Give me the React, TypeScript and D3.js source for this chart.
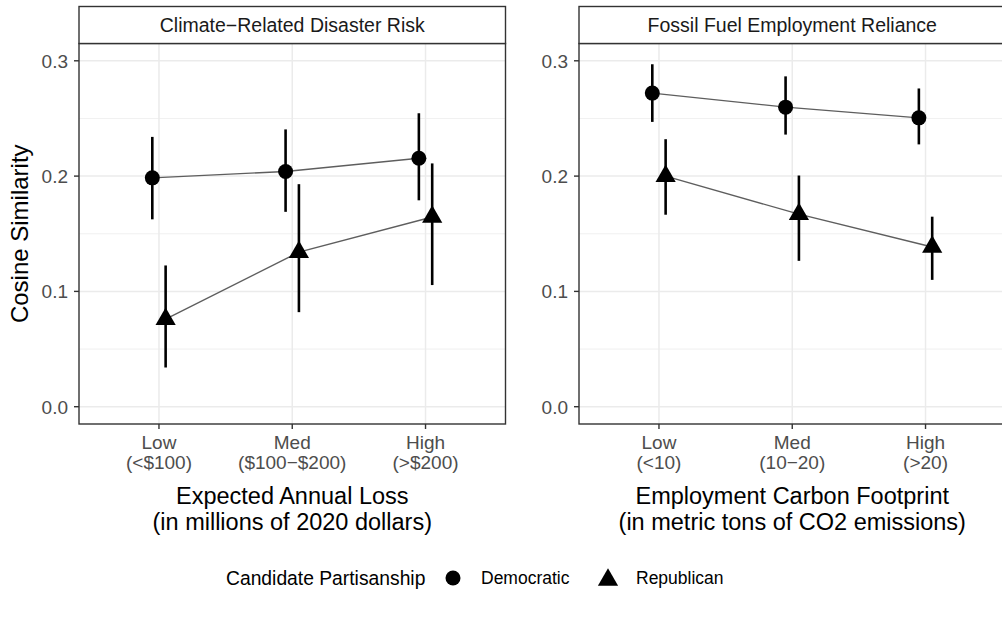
import React from "react";
import * as d3 from "d3";

// ---- data ----
const levels = ["Low", "Med", "High"];
const panelTitles = ["Climate−Related Disaster Risk", "Fossil Fuel Employment Reliance"];
const tickLabelsLeft = [["Low", "(<$100)"], ["Med", "($100−$200)"], ["High", "(>$200)"]];
const tickLabelsRight = [["Low", "(<10)"], ["Med", "(10−20)"], ["High", "(>20)"]];
const xTitlesLeft = ["Expected Annual Loss", "(in millions of 2020 dollars)"];
const xTitlesRight = ["Employment Carbon Footprint", "(in metric tons of CO2 emissions)"];
const yTicks = [0, 0.1, 0.2, 0.3];
const yMinor = [0.05, 0.15, 0.25];
const parties = ["Democratic", "Republican"];
const legendTitle = "Candidate Partisanship";

// Climate-related disaster risk
const demEstL = [0.1985, 0.204, 0.2155];
const demLoL = [0.1625, 0.169, 0.179];
const demHiL = [0.234, 0.2405, 0.2545];
const repEstL = [0.076, 0.134, 0.1645];
const repLoL = [0.034, 0.082, 0.1055];
const repHiL = [0.1225, 0.193, 0.211];
// Fossil fuel employment reliance
const demEstR = [0.272, 0.2598, 0.2505];
const demLoR = [0.247, 0.236, 0.2275];
const demHiR = [0.297, 0.2865, 0.276];
const repEstR = [0.2, 0.167, 0.1385];
const repLoR = [0.1665, 0.1265, 0.11];
const repHiR = [0.232, 0.2005, 0.1648];

const FONT = "'Liberation Sans', Arial, Helvetica, sans-serif";
const W = 1002;
const H = 623;
const panelTop = 43.5;
const panelBottom = 424;
const stripTop = 6.5;
const panelLefts = [79, 579];
const panelWidth = 426.5;

const y = d3.scaleLinear().domain([-0.015, 0.315]).range([panelBottom, panelTop]);

const CIRCLE_R = 7.5;
const TRI_R = CIRCLE_R * 1.555;

function trianglePath(cx: number, cy: number, r: number) {
  const xc = r * 0.866;
  const yc = r * 0.5;
  return `M${cx},${cy - r}L${cx + xc},${cy + yc}L${cx - xc},${cy + yc}Z`;
}

type Series = { est: number[]; lo: number[]; hi: number[] };

function Panel(props: {
  left: number;
  title: string;
  ticks: string[][];
  xTitle: string[];
  dem: Series;
  rep: Series;
}) {
  const { left, title, ticks, xTitle, dem, rep } = props;
  const x = d3.scaleLinear().domain([0.4, 3.6]).range([left, left + panelWidth]);
  const xi = (i: number) => x(i + 1);
  const dodge = 0.05;
  const demPts: [number, number][] = dem.est.map((v, i) => [x(i + 1 - dodge), y(v)]);
  const repPts: [number, number][] = rep.est.map((v, i) => [x(i + 1 + dodge), y(v)]);
  const lineGen = d3.line();
  const right = left + panelWidth;
  return (
    <g>
      <rect x={left} y={panelTop} width={panelWidth} height={panelBottom - panelTop} fill="#fff" />
      {yMinor.map((v) => (
        <line key={"mn" + v} x1={left} x2={right} y1={y(v)} y2={y(v)} stroke="#ebebeb" strokeWidth={0.75} />
      ))}
      {yTicks.map((v) => (
        <line key={"mj" + v} x1={left} x2={right} y1={y(v)} y2={y(v)} stroke="#ebebeb" strokeWidth={1.5} />
      ))}
      {levels.map((l, i) => (
        <line key={"vx" + l} x1={xi(i)} x2={xi(i)} y1={panelTop} y2={panelBottom} stroke="#ebebeb" strokeWidth={1.5} />
      ))}
      <path d={lineGen(demPts) || ""} fill="none" stroke="#5e5e5e" strokeWidth={1.4} />
      <path d={lineGen(repPts) || ""} fill="none" stroke="#5e5e5e" strokeWidth={1.4} />
      {dem.est.map((_, i) => (
        <line key={"de" + i} x1={x(i + 1 - dodge)} x2={x(i + 1 - dodge)} y1={y(dem.lo[i])} y2={y(dem.hi[i])} stroke="#000" strokeWidth={2.6} />
      ))}
      {rep.est.map((_, i) => (
        <line key={"re" + i} x1={x(i + 1 + dodge)} x2={x(i + 1 + dodge)} y1={y(rep.lo[i])} y2={y(rep.hi[i])} stroke="#000" strokeWidth={2.6} />
      ))}
      {demPts.map((p, i) => (
        <circle key={"dp" + i} cx={p[0]} cy={p[1]} r={CIRCLE_R} fill="#000" />
      ))}
      {repPts.map((p, i) => (
        <path key={"rp" + i} d={trianglePath(p[0], p[1], TRI_R)} fill="#000" />
      ))}
      <rect x={left} y={panelTop} width={panelWidth} height={panelBottom - panelTop} fill="none" stroke="#333" strokeWidth={1.4} />
      <rect x={left} y={stripTop} width={panelWidth} height={panelTop - stripTop} fill="#fff" stroke="#333" strokeWidth={1.4} />
      <text x={left + panelWidth / 2} y={32} textAnchor="middle" fontSize={19.5} fill="#1a1a1a" fontFamily={FONT}>
        {title}
      </text>
      {yTicks.map((v) => (
        <g key={"yt" + v}>
          <line x1={left - 5} x2={left} y1={y(v)} y2={y(v)} stroke="#333" strokeWidth={1.4} />
          <text x={left - 11} y={y(v) + 6.8} textAnchor="end" fontSize={19} fill="#4d4d4d" fontFamily={FONT}>
            {d3.format(".1f")(v)}
          </text>
        </g>
      ))}
      {ticks.map((t, i) => (
        <g key={"xt" + i}>
          <line x1={xi(i)} x2={xi(i)} y1={panelBottom} y2={panelBottom + 5} stroke="#333" strokeWidth={1.4} />
          <text x={xi(i)} y={448.5} textAnchor="middle" fontSize={19} fill="#4d4d4d" fontFamily={FONT}>
            {t[0]}
          </text>
          <text x={xi(i)} y={468.5} textAnchor="middle" fontSize={19} fill="#4d4d4d" fontFamily={FONT}>
            {t[1]}
          </text>
        </g>
      ))}
      <text x={left + panelWidth / 2} y={504} textAnchor="middle" fontSize={23.5} fill="#000" fontFamily={FONT}>
        {xTitle[0]}
      </text>
      <text x={left + panelWidth / 2} y={530} textAnchor="middle" fontSize={23.5} fill="#000" fontFamily={FONT}>
        {xTitle[1]}
      </text>
    </g>
  );
}

export default function App() {
  const legendY = 578;
  return (
    <svg
      width={W}
      height={H}
      viewBox={`0 0 ${W} ${H}`}
      style={{ position: "absolute", left: 0, top: 0, background: "#fff" }}
    >
      <rect x={0} y={0} width={W} height={H} fill="#fff" />
      <Panel
        left={panelLefts[0]}
        title={panelTitles[0]}
        ticks={tickLabelsLeft}
        xTitle={xTitlesLeft}
        dem={{ est: demEstL, lo: demLoL, hi: demHiL }}
        rep={{ est: repEstL, lo: repLoL, hi: repHiL }}
      />
      <Panel
        left={panelLefts[1]}
        title={panelTitles[1]}
        ticks={tickLabelsRight}
        xTitle={xTitlesRight}
        dem={{ est: demEstR, lo: demLoR, hi: demHiR }}
        rep={{ est: repEstR, lo: repLoR, hi: repHiR }}
      />
      <text
        transform={`translate(27.6, ${(panelTop + panelBottom) / 2}) rotate(-90)`}
        textAnchor="middle"
        fontSize={24}
        fill="#000"
        fontFamily={FONT}
      >
        Cosine Similarity
      </text>
      <g>
        <text x={226} y={legendY + 7} fontSize={19.3} fill="#000" fontFamily={FONT}>
          {legendTitle}
        </text>
        <circle cx={453} cy={legendY} r={CIRCLE_R} fill="#000" />
        <text x={481} y={legendY + 6} fontSize={17.5} fill="#000" fontFamily={FONT}>
          {parties[0]}
        </text>
        <path d={trianglePath(608, legendY + 2, TRI_R)} fill="#000" />
        <text x={636} y={legendY + 6} fontSize={17.5} fill="#000" fontFamily={FONT}>
          {parties[1]}
        </text>
      </g>
    </svg>
  );
}
